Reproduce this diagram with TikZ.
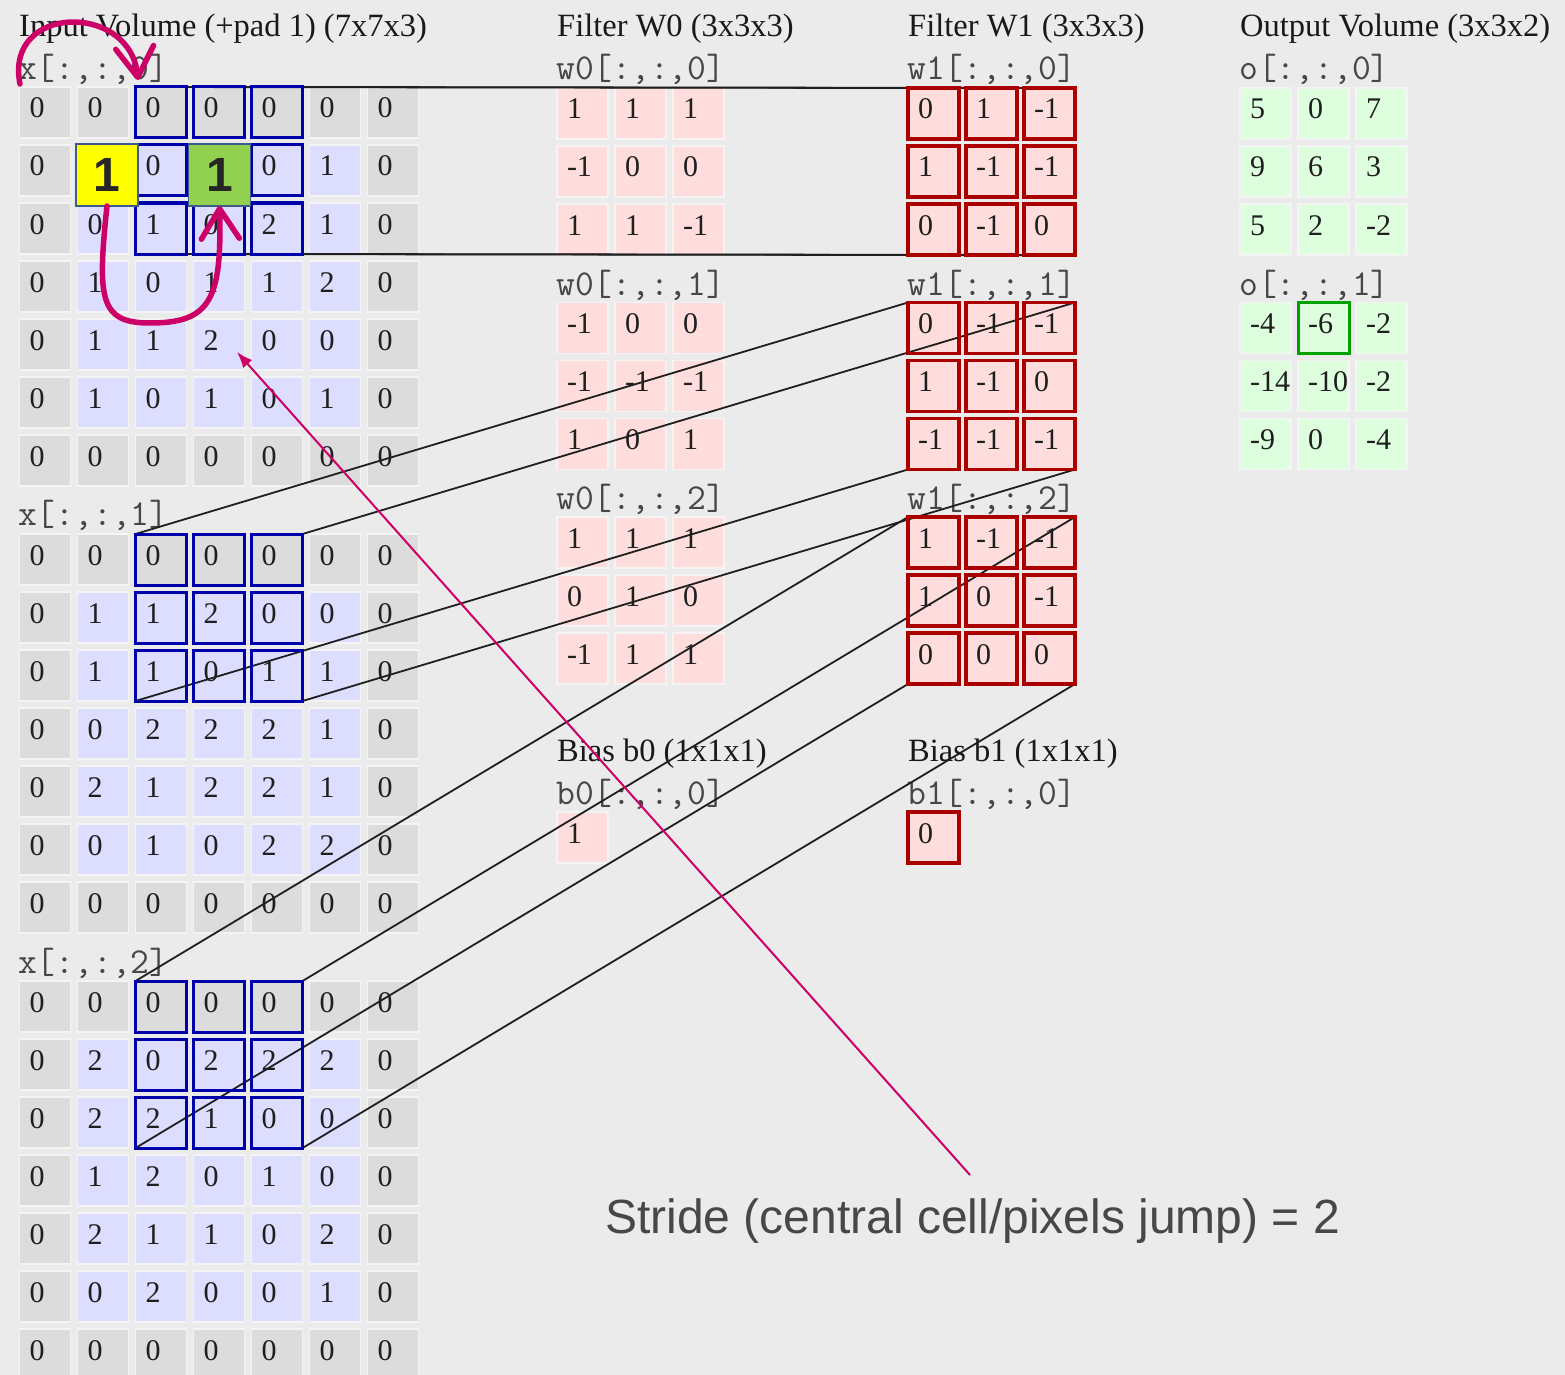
\documentclass[tikz,border=0pt]{standalone}
\usepackage{fontspec}
\setmainfont{Liberation Serif}
\newfontfamily\stridefont{Liberation Sans}
\usetikzlibrary{arrows.meta}

\definecolor{bg}{HTML}{EBEBEB}
\definecolor{cellrim}{HTML}{F4F4F4}
\definecolor{padgray}{HTML}{DCDCDC}
\definecolor{inblue}{HTML}{DDDDFF}
\definecolor{fpink}{HTML}{FFDDDD}
\definecolor{ogreen}{HTML}{DDFFDD}
\definecolor{boxblue}{HTML}{0000AA}
\definecolor{boxred}{HTML}{AA0000}
\definecolor{hlgreen}{HTML}{00A000}
\definecolor{marker}{HTML}{CC0066}
\definecolor{ovyellow}{HTML}{FFFF00}
\definecolor{ovgreen}{HTML}{92D050}
\definecolor{ovedge}{HTML}{3C5A8C}

\tikzset{
  cell/.style={anchor=north west, minimum width=51pt, minimum height=51pt,
    inner xsep=10pt, inner ysep=0pt, outer sep=0pt,
    text height=31pt, text depth=20pt, text width=31pt, align=left,
    font=\fontsize{30}{36}\selectfont, text=black!88,
    draw=cellrim, line width=1.2pt},
  heading/.style={anchor=base west, inner sep=0pt,
    font=\fontsize{32.5}{39}\selectfont, text=black!90},
  slicelabel/.style={anchor=base west, inner sep=0pt,
    font=\fontsize{36.5}{40}\selectfont\ttfamily, text=black!72},
  bluebox/.style={draw=boxblue, line width=3pt},
  redbox/.style={draw=boxred, line width=3.5pt},
  greenbox/.style={draw=hlgreen, line width=3pt},
  link/.style={draw=black!88, line width=1.8pt},
  marktile/.style={minimum width=62pt, minimum height=62pt, inner sep=0pt,
    outer sep=0pt, draw=ovedge, line width=1.5pt,
    font=\stridefont\bfseries\fontsize{48}{50}\selectfont, text=black!85},
  bigarrow/.style={draw=marker, line width=5.5pt, line cap=round,
    -{Straight Barb[length=30pt,width=38pt,round]}},
  pointer/.style={draw=marker, line width=2pt, -{Latex[length=16pt,width=12pt]}},
  stride/.style={anchor=base west, inner sep=0pt,
    font=\stridefont\fontsize{48}{56}\selectfont, text=black!72},
}

% fill colour of an input cell: grey on the zero padding ring
\newcommand\pickfill[2]{%
  \def\cellfill{inblue}%
  \ifnum#1=0 \def\cellfill{padgray}\fi
  \ifnum#1=6 \def\cellfill{padgray}\fi
  \ifnum#2=0 \def\cellfill{padgray}\fi
  \ifnum#2=6 \def\cellfill{padgray}\fi}

% one 7x7 depth slice of the padded input
\newcommand\inputslice[2]{%
  \foreach \row [count=\ri from 0] in {#2} {
    \foreach \v [count=\ci from 0] in \row {
      \pickfill{\ri}{\ci}
      \node[cell, fill=\cellfill] (x#1-\ri-\ci)
        at ({19.5+58*\ci}, {87+447*#1+58*\ri}) {\mbox{\v}};
    }
  }}

% one 3x3 slice of a filter / output block: #1 name, #2 left x, #3 slice, #4 fill, #5 rows
\newcommand\smallslice[5]{%
  \foreach \row [count=\ri from 0] in {#5} {
    \foreach \v [count=\ci from 0] in \row {
      \node[cell, fill=#4] (#1-#3-\ri-\ci)
        at ({#2+58*\ci}, {88+214.5*#3+58*\ri}) {\mbox{\v}};
    }
  }}

\begin{document}
\begin{tikzpicture}[x=1pt, y=-1pt]
\clip (0,0) rectangle (1565,1375);
\fill[bg] (0,0) rectangle (1565,1375);

% ---- headings ----
\node[heading] (hin)  at (19,37)   {Input Volume (+pad 1) (7x7x3)};
\node[heading] (hw0)  at (557,37)  {Filter W0 (3x3x3)};
\node[heading] (hw1)  at (908,37)  {Filter W1 (3x3x3)};
\node[heading] (hout) at (1240,37) {Output Volume (3x3x2)};

% ---- slice labels ----
\node[slicelabel] (lx0) at (18,80)  {x[:,:,0]};
\node[slicelabel] (lx1) at (18,525) {x[:,:,1]};
\node[slicelabel] (lx2) at (18,973) {x[:,:,2]};
\node[slicelabel] (la0) at (556,80)  {w0[:,:,0]};
\node[slicelabel] (la1) at (556,295) {w0[:,:,1]};
\node[slicelabel] (la2) at (556,509) {w0[:,:,2]};
\node[slicelabel] (lb0) at (907,80)  {w1[:,:,0]};
\node[slicelabel] (lb1) at (907,295) {w1[:,:,1]};
\node[slicelabel] (lb2) at (907,509) {w1[:,:,2]};
\node[slicelabel] (lo0) at (1239,80)  {o[:,:,0]};
\node[slicelabel] (lo1) at (1239,295) {o[:,:,1]};

% ---- input volume (the two cells under the marker tiles stay blank) ----
\inputslice{0}{{0,0,0,0,0,0,0},{0,,0,,0,1,0},{0,0,1,0,2,1,0},{0,1,0,1,1,2,0},{0,1,1,2,0,0,0},{0,1,0,1,0,1,0},{0,0,0,0,0,0,0}}
\inputslice{1}{{0,0,0,0,0,0,0},{0,1,1,2,0,0,0},{0,1,1,0,1,1,0},{0,0,2,2,2,1,0},{0,2,1,2,2,1,0},{0,0,1,0,2,2,0},{0,0,0,0,0,0,0}}
\inputslice{2}{{0,0,0,0,0,0,0},{0,2,0,2,2,2,0},{0,2,2,1,0,0,0},{0,1,2,0,1,0,0},{0,2,1,1,0,2,0},{0,0,2,0,0,1,0},{0,0,0,0,0,0,0}}

% ---- filters ----
\smallslice{f0}{557}{0}{fpink}{{1,1,1},{-1,0,0},{1,1,-1}}
\smallslice{f0}{557}{1}{fpink}{{-1,0,0},{-1,-1,-1},{1,0,1}}
\smallslice{f0}{557}{2}{fpink}{{1,1,1},{0,1,0},{-1,1,1}}
\smallslice{f1}{908}{0}{fpink}{{0,1,-1},{1,-1,-1},{0,-1,0}}
\smallslice{f1}{908}{1}{fpink}{{0,-1,-1},{1,-1,0},{-1,-1,-1}}
\smallslice{f1}{908}{2}{fpink}{{1,-1,-1},{1,0,-1},{0,0,0}}

% ---- output volume ----
\smallslice{o}{1240}{0}{ogreen}{{5,0,7},{9,6,3},{5,2,-2}}
\smallslice{o}{1240}{1}{ogreen}{{-4,-6,-2},{-14,-10,-2},{-9,0,-4}}

% ---- biases ----
\node[heading] (hb0) at (557,761) {Bias b0 (1x1x1)};
\node[heading] (hb1) at (908,761) {Bias b1 (1x1x1)};
\node[slicelabel] (lbb0) at (556,804) {b0[:,:,0]};
\node[slicelabel] (lbb1) at (907,804) {b1[:,:,0]};
\node[cell, fill=fpink] (b0) at (557,812) {\mbox{1}};
\node[cell, fill=fpink] (b1) at (908,812) {\mbox{0}};

% ---- receptive field projected onto filter W1 ----
\foreach \s in {0,1,2} {
  \draw[link] (x\s-0-2.north west) -- (f1-\s-0-0.north west);
  \draw[link] (x\s-0-4.north east) -- (f1-\s-0-2.north east);
  \draw[link] (x\s-2-2.south west) -- (f1-\s-2-0.south west);
  \draw[link] (x\s-2-4.south east) -- (f1-\s-2-2.south east);
}

% ---- window and filter outlines ----
\foreach \s in {0,1,2} {
  \foreach \ri in {0,1,2} {
    \foreach \ci in {2,3,4}
      \draw[bluebox] (x\s-\ri-\ci.north west) rectangle (x\s-\ri-\ci.south east);
    \foreach \ci in {0,1,2}
      \draw[redbox] (f1-\s-\ri-\ci.north west) rectangle (f1-\s-\ri-\ci.south east);
  }
}
\draw[redbox] (b1.north west) rectangle (b1.south east);
\draw[greenbox] (o-1-0-1.north west) rectangle (o-1-0-1.south east);

% ---- window centres of two successive positions ----
\node[marktile, fill=ovyellow] (yel) at (107,175) {1};
\node[marktile, fill=ovgreen]  (grn) at (219.5,175) {1};

% ---- stride annotation ----
\node[stride] (stride) at (605,1233) {Stride (central cell/pixels jump) = 2};

\coordinate (a1s) at (20,84);
\coordinate (a1e) at (138,80);
\draw[bigarrow] (a1s) .. controls (4,4) and (130,2) .. (a1e);
\draw[bigarrow] (yel.south) .. controls (97,300) and (100,323) .. (150,323)
  .. controls (210,323) and (222,300) .. (grn.south);

\coordinate (a3s) at (970,1175);
\coordinate (a3e) at (237,352);
\draw[pointer] (a3s) -- (a3e);
\end{tikzpicture}
\end{document}
